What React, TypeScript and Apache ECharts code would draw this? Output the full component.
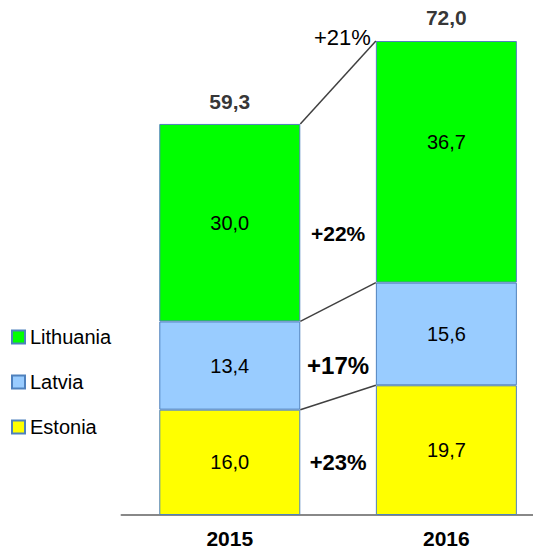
import React, { useEffect, useRef } from "react";
import * as echarts from "echarts";

const years = ["2015", "2016"];
const estonia = [16.0, 19.7];
const latvia = [13.4, 15.6];
const lithuania = [30.0, 36.7];
const totals = [59.3, 72.0];
const segmentGrowth = ["+23%", "+17%", "+22%"];
const totalGrowth = "+21%";

const fmt = (v: number) => v.toFixed(1).replace(".", ",");
const FONT = "'Liberation Sans', Arial, sans-serif";

export default function App() {
  const ref = useRef<HTMLDivElement>(null);
  useEffect(() => {
    if (!ref.current) return;
    const chart = echarts.init(ref.current, undefined, { renderer: "svg" });
    const cum2015 = [estonia[0], estonia[0] + latvia[0], estonia[0] + latvia[0] + lithuania[0]];
    const cum2016 = [estonia[1], estonia[1] + latvia[1], estonia[1] + latvia[1] + lithuania[1]];
    const BAR_W = 141;
    const border = { borderColor: "#4f81bd", borderWidth: 1 };
    const innerLabel = {
      show: true,
      position: "inside" as const,
      fontSize: 20,
      fontFamily: FONT,
      color: "#000",
      formatter: (p: any) => fmt(p.value[0] as number),
    };
    const labelOffsets = [0, 0, 11];
    const labelSizes = [22, 24, 21];
    const idx = years.map((_, i) => i);
    // value first, category index second: stacking happens on the value dimension
    const toData = (arr: number[]) => arr.map((v, i) => [v, i]);

    chart.setOption({
      animation: false,
      grid: { left: 121.5, right: 0, top: 41, bottom: 37 },
      xAxis: {
        type: "value",
        min: -0.5,
        max: 1.4,
        splitLine: { show: false },
        axisLine: { show: true, onZero: false, lineStyle: { color: "#888", width: 2 } },
        axisTick: { show: false },
        axisLabel: {
          customValues: idx,
          formatter: (v: number) => years[Math.round(v)] ?? "",
          fontSize: 21,
          fontWeight: "bold",
          color: "#000",
          fontFamily: FONT,
          margin: 13,
        },
      },
      yAxis: { type: "value", min: 0, max: 72, show: false },
      legend: {
        data: ["Lithuania", "Latvia", "Estonia"],
        orient: "vertical",
        left: 11,
        top: 327,
        padding: 0,
        itemWidth: 13,
        itemHeight: 13,
        itemGap: 25,
        icon: "rect",
        textStyle: { fontSize: 20, color: "#000", fontFamily: FONT, lineHeight: 20 },
      },
      series: [
        {
          name: "Estonia",
          type: "bar",
          stack: "a",
          barWidth: BAR_W,
          encode: { x: 1, y: 0 },
          data: toData(estonia),
          itemStyle: { color: "#ffff00", ...border },
          label: innerLabel,
        },
        {
          name: "Latvia",
          type: "bar",
          stack: "a",
          barWidth: BAR_W,
          encode: { x: 1, y: 0 },
          data: toData(latvia),
          itemStyle: { color: "#99ccff", ...border },
          label: innerLabel,
        },
        {
          name: "Lithuania",
          type: "bar",
          stack: "a",
          barWidth: BAR_W,
          encode: { x: 1, y: 0 },
          data: lithuania.map((v, i) => ({ value: [v, i], label: i === 1 ? { offset: [0, -20] } : {} })),
          itemStyle: { color: "#00ff00", ...border },
          label: innerLabel,
        },
        {
          name: "total",
          type: "scatter",
          symbolSize: 0,
          encode: { x: 1, y: 0 },
          data: toData(totals),
          label: {
            show: true,
            position: "top",
            distance: 13,
            fontSize: 21,
            fontWeight: "bold",
            fontFamily: FONT,
            color: "#000",
            formatter: (p: any) => fmt(p.value[0] as number),
          },
          z: 5,
        },
        {
          name: "connectors",
          type: "custom",
          clip: false,
          encode: { x: 0, y: [1, 2] },
          data: cum2015.map((v, i) => [0, v, cum2016[i]]),
          renderItem: (params: any, api: any) => {
            const i = params.dataIndex;
            const p0 = api.coord([0, api.value(1)]);
            const p1 = api.coord([1, api.value(2)]);
            const half = BAR_W / 2;
            const x0 = p0[0] + half;
            const x1 = p1[0] - half;
            const lowVal = i === 0 ? 0 : cum2015[i - 1];
            const pLow = api.coord([0, lowVal]);
            const midY = (pLow[1] + p0[1]) / 2 + labelOffsets[i];
            const children: any[] = [
              {
                type: "line",
                shape: { x1: x0, y1: p0[1], x2: x1, y2: p1[1] },
                style: { stroke: "#404040", lineWidth: 1.5 },
              },
              {
                type: "text",
                x: (x0 + x1) / 2,
                y: midY,
                style: {
                  text: segmentGrowth[i],
                  fill: "#000",
                  fontSize: labelSizes[i],
                  fontWeight: "bold",
                  fontFamily: FONT,
                  align: "center",
                  verticalAlign: "middle",
                },
              },
            ];
            if (i === 2) {
              children.push({
                type: "text",
                x: x1 - 5,
                y: p1[1] - 4,
                style: {
                  text: totalGrowth,
                  fill: "#000",
                  fontSize: 22,
                  fontFamily: FONT,
                  align: "right",
                  verticalAlign: "middle",
                },
              });
            }
            return { type: "group", children };
          },
          z: 4,
        },
      ],
    });
    return () => chart.dispose();
  }, []);
  return (
    <div
      ref={ref}
      style={{ position: "fixed", left: 0, top: 0, width: 533, height: 552, background: "#fff" }}
    />
  );
}
